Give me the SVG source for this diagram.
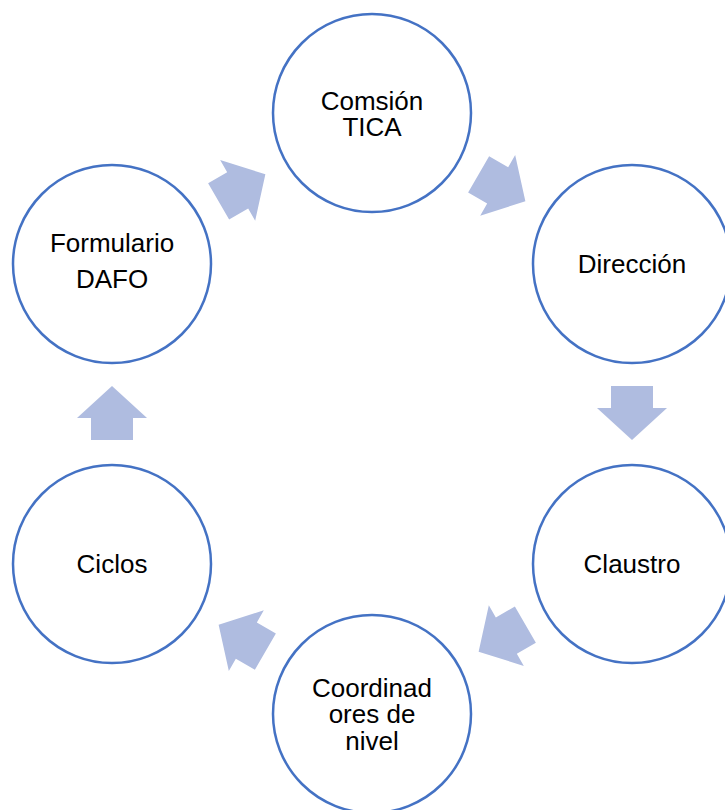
<svg xmlns="http://www.w3.org/2000/svg" width="725" height="810" viewBox="0 0 725 810">
<defs>
<style>
.node circle{fill:#FFFFFF;stroke:#4472C4;stroke-width:2.5}
.node text{font-family:"Liberation Sans",Arial,sans-serif;font-size:26px;fill:#000000;text-anchor:middle}
.arrow{fill:#AFBCE0}
</style>
<path id="arr" d="M611,386 H653 V408 H667 L632,440 L597,408 H611 Z"/>
</defs>
<rect width="725" height="810" fill="#FFFFFF"/>
<g id="connectors">
<use href="#arr" class="arrow" transform="rotate(0,372,413)"/>
<use href="#arr" class="arrow" transform="rotate(60,372,413)"/>
<use href="#arr" class="arrow" transform="rotate(120,372,413)"/>
<use href="#arr" class="arrow" transform="rotate(180,372,413)"/>
<use href="#arr" class="arrow" transform="rotate(240,372,413)"/>
<use href="#arr" class="arrow" transform="rotate(300,372,413)"/>
</g>
<g id="comision" class="node">
<circle cx="372" cy="113" r="99"/>
<text x="372" y="110">Comsión</text>
<text x="372" y="136">TICA</text>
</g>
<g id="direccion" class="node">
<circle cx="632" cy="264" r="99"/>
<text x="632" y="273">Dirección</text>
</g>
<g id="claustro" class="node">
<circle cx="632" cy="564" r="99"/>
<text x="632" y="573">Claustro</text>
</g>
<g id="coordinadores" class="node">
<circle cx="372" cy="714" r="99"/>
<text x="372" y="697">Coordinad</text>
<text x="372" y="723">ores de</text>
<text x="372" y="750">nivel</text>
</g>
<g id="ciclos" class="node">
<circle cx="112" cy="564" r="99"/>
<text x="112" y="573">Ciclos</text>
</g>
<g id="formulario" class="node">
<circle cx="112" cy="264" r="99"/>
<text x="112" y="252">Formulario</text>
<text x="112" y="288">DAFO</text>
</g>
</svg>
